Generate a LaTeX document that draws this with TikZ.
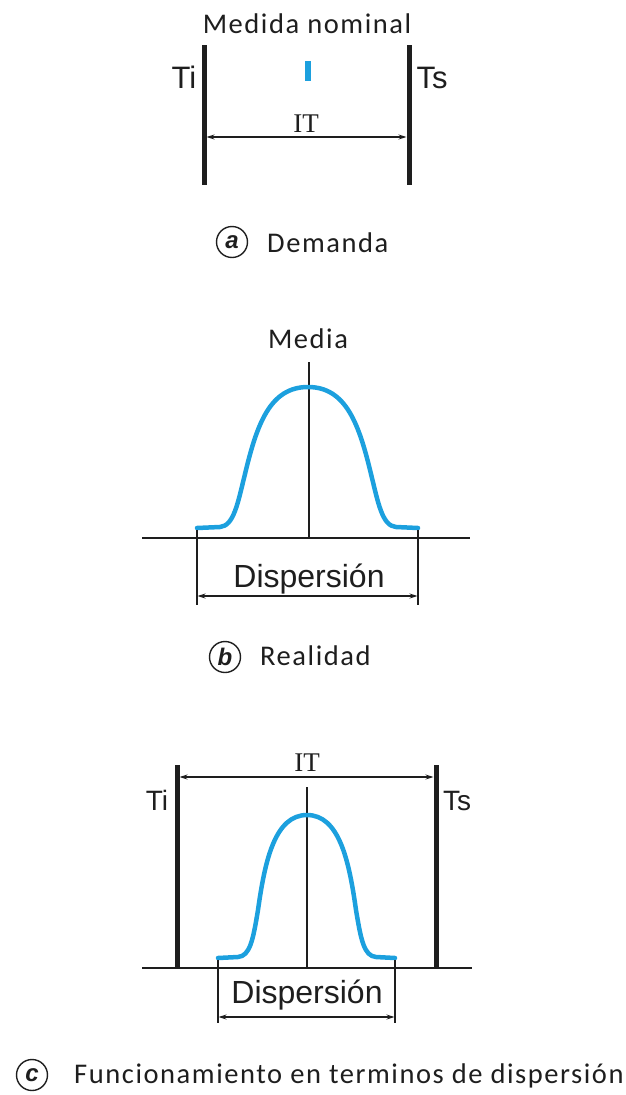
\documentclass[tikz,border=0pt]{standalone}
\usepackage{fontspec}
\setmainfont{Liberation Sans}
\newfontfamily\capfont[LetterSpace=5.5]{Carlito}
\newfontfamily\seriffont{Liberation Serif}
\usetikzlibrary{arrows.meta}
\definecolor{curveblue}{RGB}{28,160,222}
\definecolor{ink}{RGB}{30,30,30}
\begin{document}
\begin{tikzpicture}[x=1pt,y=-1pt,
  bar/.style={ink,line width=5pt},
  thinline/.style={ink,line width=1.1pt},
  dimline/.style={ink,line width=1.1pt,{Stealth[length=8pt,width=5pt]}-{Stealth[length=8pt,width=5pt]}},
  bell/.style={curveblue,line width=4.5pt,line cap=round,line join=round},
  sanslbl/.style={inner sep=0,anchor=base,text=ink,font=\fontsize{31}{33}\selectfont},
  sanslblc/.style={inner sep=0,anchor=base,text=ink,font=\fontsize{28}{30}\selectfont},
  displbl/.style={inner sep=0,anchor=base,text=ink,font=\fontsize{32}{34}\selectfont},
  itlbl/.style={inner sep=0,anchor=base,text=ink,font=\seriffont\fontsize{27}{29}\selectfont},
  caplbl/.style={inner sep=0,text=ink,font=\capfont\fontsize{28.5}{30}\selectfont},
  circ/.style={circle,draw=ink,line width=1.4pt,minimum size=31pt,inner sep=0,text=ink,font=\bfseries\itshape\fontsize{24}{24}\selectfont}
]
\useasboundingbox (0,0) rectangle (626,1095);

% ---------------- panel a ----------------
\node[caplbl,anchor=base] (nom) at (307,33) {Medida nominal};
\coordinate (aLt) at (204,45); \coordinate (aLb) at (204,185);
\coordinate (aRt) at (409,45); \coordinate (aRb) at (409,185);
\draw[bar] (aLt) -- (aLb);
\draw[bar] (aRt) -- (aRb);
\coordinate (mkt) at (307.5,61); \coordinate (mkb) at (307.5,81);
\draw[curveblue,line width=6pt] (mkt) -- (mkb);
\node[sanslbl] (aTi) at (184,88) {Ti};
\node[sanslbl] (aTs) at (432,88) {Ts};
\node[itlbl] (aIT) at (306,132) {IT};
\coordinate (aA1) at (206.5,137); \coordinate (aA2) at (406.5,137);
\draw[dimline] (aA1) -- (aA2);
\node[circ] (ca) at (232,242) {a};
\node[caplbl,anchor=base west] (capA) at (267,252) {Demanda};

% ---------------- panel b ----------------
\node[caplbl,anchor=base] (media) at (308,348) {Media};
\coordinate (bCt) at (309,362); \coordinate (bCb) at (309,538);
\draw[thinline] (bCt) -- (bCb);
\coordinate (bH1) at (142,538); \coordinate (bH2) at (470,538);
\draw[thinline] (bH1) -- (bH2);
\draw[bell] (197,528) -- (220,527)
  .. controls (234,526) and (238,502) .. (245,474)
  .. controls (257,424) and (270,387) .. (308,387)
  .. controls (346,387) and (359,424) .. (371,474)
  .. controls (378,502) and (382,526) .. (396,527) -- (418,528);
\coordinate (bD1t) at (197,530); \coordinate (bD1b) at (197,605);
\coordinate (bD2t) at (418,530); \coordinate (bD2b) at (418,605);
\draw[thinline] (bD1t) -- (bD1b);
\draw[thinline] (bD2t) -- (bD2b);
\coordinate (bA1) at (197.5,596); \coordinate (bA2) at (417.5,596);
\draw[dimline] (bA1) -- (bA2);
\node[displbl] (bDisp) at (309,587) {Dispersión};
\node[circ] (cb) at (225,657) {b};
\node[caplbl,anchor=base west] (capB) at (260,665) {Realidad};

% ---------------- panel c ----------------
\node[itlbl] (cIT) at (307,771) {IT};
\coordinate (cLt) at (177,765); \coordinate (cLb) at (177,968);
\coordinate (cRt) at (436,765); \coordinate (cRb) at (436,968);
\draw[bar] (cLt) -- (cLb);
\draw[bar] (cRt) -- (cRb);
\coordinate (cA1) at (179.5,777); \coordinate (cA2) at (433.5,777);
\draw[dimline] (cA1) -- (cA2);
\node[sanslblc] (cTi) at (157,810) {Ti};
\node[sanslblc] (cTs) at (457,810) {Ts};
\coordinate (cCt) at (307,787); \coordinate (cCb) at (307,968);
\draw[thinline] (cCt) -- (cCb);
\coordinate (cH1) at (142,968); \coordinate (cH2) at (472,968);
\draw[thinline] (cH1) -- (cH2);
\draw[bell] (218,958) -- (238,957)
  .. controls (250,956) and (253,940) .. (258,910)
  .. controls (265,860) and (275,815) .. (307,815)
  .. controls (339,815) and (349,860) .. (356,910)
  .. controls (361,940) and (364,956) .. (376,957) -- (395,958);
\coordinate (cD1t) at (218,960); \coordinate (cD1b) at (218,1023);
\coordinate (cD2t) at (395,960); \coordinate (cD2b) at (395,1023);
\draw[thinline] (cD1t) -- (cD1b);
\draw[thinline] (cD2t) -- (cD2b);
\coordinate (cA3) at (218.5,1017); \coordinate (cA4) at (394.5,1017);
\draw[dimline] (cA3) -- (cA4);
\node[displbl] (cDisp) at (307,1003) {Dispersión};
\node[circ] (cc) at (32,1075) {c};
\node[caplbl,anchor=base west] (capC) at (74,1083) {Funcionamiento en terminos de dispersión};
\end{tikzpicture}
\end{document}
